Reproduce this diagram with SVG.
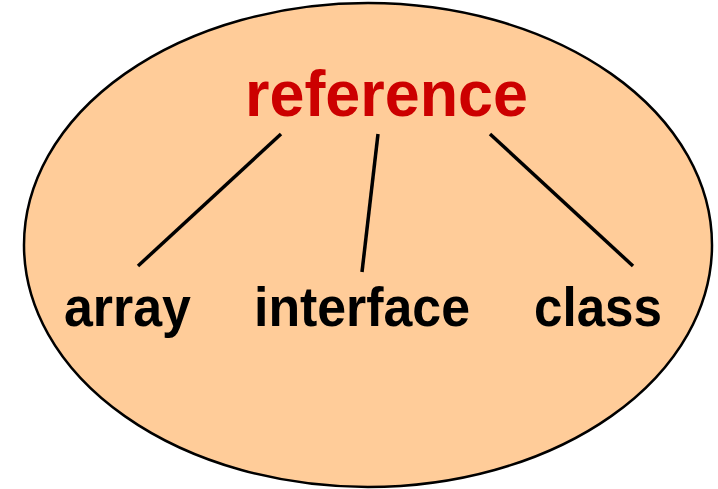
<svg xmlns="http://www.w3.org/2000/svg" width="718" height="489" viewBox="0 0 718 489">
  <style>
    .label { font-family: "Liberation Sans", Arial, sans-serif; font-weight: bold; text-anchor: middle; }
    .root { fill: #cc0000; font-size: 65px; }
    .leaf { fill: #000000; font-size: 56px; }
    .edge { stroke: #000000; stroke-width: 3.5; stroke-linecap: butt; fill: none; }
  </style>
  <rect width="718" height="489" fill="#ffffff"/>
  <g id="boundary">
    <ellipse cx="368" cy="245" rx="344" ry="242" fill="#ffcc99" stroke="#000000" stroke-width="2.5"/>
  </g>
  <g id="connectors">
    <line class="edge" x1="281" y1="134" x2="138" y2="266"/>
    <line class="edge" x1="378" y1="134" x2="362" y2="272"/>
    <line class="edge" x1="490" y1="134" x2="633" y2="266"/>
  </g>
  <g id="node-reference">
    <text class="label root" x="386.5" y="116" textLength="283" lengthAdjust="spacingAndGlyphs">reference</text>
  </g>
  <g id="node-array">
    <text class="label leaf" x="127.5" y="326" textLength="127" lengthAdjust="spacingAndGlyphs">array</text>
  </g>
  <g id="node-interface">
    <text class="label leaf" x="362" y="326" textLength="216" lengthAdjust="spacingAndGlyphs">interface</text>
  </g>
  <g id="node-class">
    <text class="label leaf" x="598" y="326" textLength="128" lengthAdjust="spacingAndGlyphs">class</text>
  </g>
</svg>
